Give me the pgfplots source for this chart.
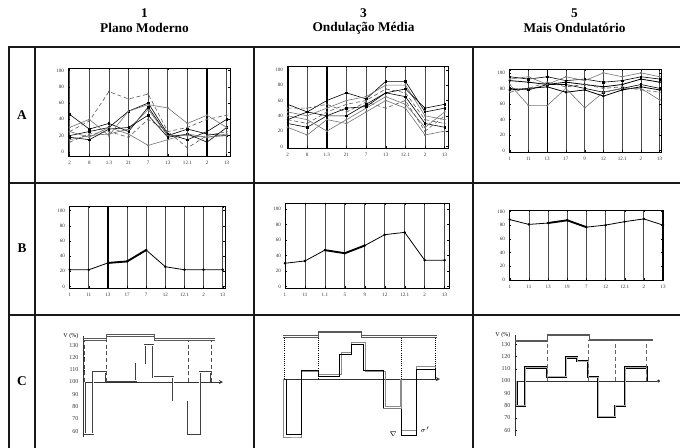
\documentclass[border=0pt]{standalone}
\usepackage{fontspec}
\setmainfont{Liberation Serif}
\usepackage{pgfplots}
\pgfplotsset{compat=1.18}
\usetikzlibrary{arrows.meta}
\begin{document}
\begin{tikzpicture}[x=0.75pt,y=0.75pt]
\useasboundingbox (0,0) rectangle (680,448);
\tikzset{small/.style={font=\fontsize{3.8}{4}\selectfont, text=black!80}}
\pgfplotsset{
  pplot/.style={scale only axis, anchor=south west,
    axis line style={black,line width=0.6pt},
    xmajorgrids, major grid style={black!70,line width=0.55pt},
    tick style={black,line width=0.3pt}, major tick length=1.2pt,
    tick label style={font=\fontsize{3.8}{4}\selectfont, text=black!80},
    /pgf/number format/assume math mode=true,
    xtick={1,...,9}, ytick={0,20,...,100},
    xticklabel style={yshift=-0.5pt}, yticklabel style={xshift=0.5pt}},
  la/.style={black, line width=0.45pt, mark=square*, mark size=0.55pt},
  lg/.style={black!55, line width=0.45pt, mark=*, mark size=0.5pt},
  ld/.style={black!65, line width=0.45pt, densely dashed, mark=*, mark size=0.45pt},
  lb/.style={black, line width=0.6pt, mark=*, mark size=0.6pt},
  topl/.style={const plot, black!65, line width=0.4pt},
}
% ---- header
\node[font=\bfseries\fontsize{10}{11}\selectfont] at (144.5,435) {1};
\node[font=\bfseries\fontsize{10}{11}\selectfont] at (144.5,420) {Plano Moderno};
\node[font=\bfseries\fontsize{10}{11}\selectfont] at (363.5,435) {3};
\node[font=\bfseries\fontsize{10}{11}\selectfont] at (363.5,420) {Ondulação Média};
\node[font=\bfseries\fontsize{10}{11}\selectfont] at (574.5,435) {5};
\node[font=\bfseries\fontsize{10}{11}\selectfont] at (574.5,420) {Mais Ondulatório};
% ---- table lines
\begin{scope}[line width=1.9pt, black!90]
\draw (8.05,401) -- (680,401);
\draw (8.05,265) -- (680,265);
\draw (8.05,133) -- (680,133);
\draw (9,401.95) -- (9,0);
\draw (35,401) -- (35,0);
\draw (254,401) -- (254,0);
\draw (473,401) -- (473,0);
\end{scope}
\node[font=\bfseries\fontsize{10}{11}\selectfont] at (22,333) {A};
\node[font=\bfseries\fontsize{10}{11}\selectfont] at (22,200) {B};
\node[font=\bfseries\fontsize{10}{11}\selectfont] at (22,67) {C};

% ================= A1
\begin{axis}[pplot, at={(68*0.75pt,292*0.75pt)}, width=121.5pt, height=66pt,
  xmin=0.915, xmax=9.17, ymin=-5, ymax=103,
  xticklabels={2,8,1.3,21,7,13,12.1,2,13}]
\addplot[la] coordinates {(1,46)(2,28)(3,35)(4,25)(5,55)(6,20)(7,28)(8,22)(9,20)};
\addplot[ld] coordinates {(1,25)(2,38)(3,74)(4,65)(5,71)(6,25)(7,30)(8,40)(9,45)};
\addplot[la] coordinates {(1,20)(2,25)(3,30)(4,50)(5,60)(6,22)(7,15)(8,25)(9,40)};
\addplot[lg] coordinates {(1,15)(2,20)(3,22)(4,28)(5,52)(6,20)(7,20)(8,18)(9,22)};
\addplot[la] coordinates {(1,18)(2,15)(3,28)(4,30)(5,45)(6,18)(7,22)(8,12)(9,30)};
\addplot[lg] coordinates {(1,25)(2,18)(3,30)(4,22)(5,8)(6,15)(7,22)(8,18)(9,20)};
\addplot[ld] coordinates {(1,12)(2,22)(3,25)(4,18)(5,40)(6,25)(7,5)(8,20)(9,25)};
\addplot[lg] coordinates {(1,30)(2,40)(3,20)(4,50)(5,58)(6,54)(7,35)(8,45)(9,30)};
\draw[line width=1.3pt] (rel axis cs:0,0) -- (rel axis cs:0,1);
\draw[line width=1.1pt] (axis cs:8,-5) -- (axis cs:8,103);
\node[small, anchor=south east] at (rel axis cs:0,1) {1};
\end{axis}

% ================= A2
\begin{axis}[pplot, at={(287*0.75pt,300*0.75pt)}, width=120.75pt, height=61.5pt,
  xmin=0.97, xmax=9.17, ymin=-2, ymax=105,
  xticklabels={2,8,1.3,21,7,13,12.1,2,13}]
\addplot[la] coordinates {(1,55)(2,45)(3,60)(4,70)(5,62)(6,85)(7,85)(8,45)(9,50)};
\addplot[lg] coordinates {(1,45)(2,40)(3,50)(4,60)(5,65)(6,80)(7,80)(8,40)(9,35)};
\addplot[ld] coordinates {(1,35)(2,30)(3,45)(4,55)(5,60)(6,75)(7,70)(8,35)(9,30)};
\addplot[la] coordinates {(1,30)(2,25)(3,40)(4,40)(5,55)(6,70)(7,65)(8,30)(9,25)};
\addplot[lg] coordinates {(1,40)(2,35)(3,20)(4,35)(5,50)(6,65)(7,55)(8,25)(9,45)};
\addplot[ld] coordinates {(1,50)(2,50)(3,55)(4,45)(5,58)(6,50)(7,60)(8,20)(9,40)};
\addplot[lg] coordinates {(1,25)(2,15)(3,35)(4,30)(5,45)(6,60)(7,50)(8,15)(9,20)};
\addplot[la] coordinates {(1,35)(2,45)(3,40)(4,50)(5,52)(6,70)(7,75)(8,50)(9,55)};
\draw[line width=1.3pt] (rel axis cs:0.01,0) -- (rel axis cs:0.01,1);
\draw[line width=1.1pt] (axis cs:3,-2) -- (axis cs:3,105);
\node[small, anchor=south east] at (rel axis cs:0,1) {1};
\end{axis}

% ================= A3
\begin{axis}[pplot, at={(509*0.75pt,296*0.75pt)}, width=114pt, height=62.25pt,
  xmin=0.96, xmax=9.07, ymin=-2, ymax=105,
  xticklabels={1,11,13,17,9,12,12.1,2,13}]
\addplot[la] coordinates {(1,95)(2,92)(3,95)(4,90)(5,92)(6,88)(7,90)(8,95)(9,92)};
\addplot[lb] coordinates {(1,90)(2,88)(3,85)(4,88)(5,85)(6,82)(7,85)(8,92)(9,88)};
\addplot[la] coordinates {(1,80)(2,78)(3,85)(4,85)(5,80)(6,75)(7,80)(8,85)(9,80)};
\addplot[lg] coordinates {(1,85)(2,58)(3,58)(4,80)(5,55)(6,75)(7,80)(8,80)(9,65)};
\addplot[lb] coordinates {(1,78)(2,80)(3,82)(4,75)(5,78)(6,70)(7,78)(8,82)(9,78)};
\addplot[lg] coordinates {(1,92)(2,95)(3,85)(4,95)(5,90)(6,100)(7,95)(8,100)(9,95)};
\addplot[ld] coordinates {(1,75)(2,80)(3,88)(4,82)(5,85)(6,80)(7,82)(8,78)(9,75)};
\draw[line width=1.3pt] (rel axis cs:0,0) -- (rel axis cs:0,1);
\draw[line width=1.0pt] (axis cs:3,-2) -- (axis cs:3,105);
\node[small, anchor=south east] at (rel axis cs:0,1) {C};
\end{axis}

% ================= B1
\begin{axis}[pplot, at={(69*0.75pt,160*0.75pt)}, width=117pt, height=61.5pt,
  xmin=0.965, xmax=9.12, ymin=-2, ymax=106,
  xticklabels={1,11,13,17,7,12,12.1,2,13}]
\addplot[lb] coordinates {(1,22)(2,22)(3,31)(4,33)(5,48)(6,26)(7,22)(8,22)(9,22)};
\addplot[black, line width=1.4pt] coordinates {(3,31)(4,33)(5,48)};
\draw[line width=1.3pt] (rel axis cs:0,0) -- (rel axis cs:0,1);
\draw[line width=1.0pt] (axis cs:3,-2) -- (axis cs:3,106);
\node[small, anchor=south east] at (rel axis cs:0,1) {1};
\end{axis}

% ================= B2
\begin{axis}[pplot, at={(285*0.75pt,160*0.75pt)}, width=123pt, height=63.75pt,
  xmin=1, xmax=9.22, ymin=-2, ymax=108,
  xticklabels={1,11,1.1,5,9,12,12.1,2,13}]
\addplot[lb] coordinates {(1,30)(2,33)(3,47)(4,43)(5,53)(6,67)(7,70)(8,34)(9,34)};
\addplot[black, line width=1.4pt] coordinates {(3,47)(4,43)(5,53)};
\draw[line width=1.3pt] (rel axis cs:0,0) -- (rel axis cs:0,1);
\node[small, anchor=south east] at (rel axis cs:0,1) {1};
\end{axis}

% ================= B3
\begin{axis}[pplot, at={(509*0.75pt,168*0.75pt)}, width=115.5pt, height=52.5pt,
  xmin=0.96, xmax=9.0, ymin=0, ymax=102,
  xticklabels={1,11,13,19,7,12,12.1,2,13}]
\addplot[lb] coordinates {(1,88)(2,81)(3,83)(4,87)(5,77)(6,80)(7,85)(8,89)(9,80)};
\addplot[black, line width=1.4pt] coordinates {(3,83)(4,87)(5,77)};
\draw[line width=1.3pt] (rel axis cs:0,0) -- (rel axis cs:0,1);
\draw[line width=1.3pt] (rel axis cs:1,0) -- (rel axis cs:1,1);
\node[small, anchor=south east] at (rel axis cs:0,1) {1};
\end{axis}

% ================= C1
\begin{axis}[scale only axis, anchor=south west, at={(83*0.75pt,10.5*0.75pt)},
  width=105pt, height=75.8pt, xmin=0, xmax=42, ymin=55, ymax=137,
  axis x line=none, axis y line*=left, clip=false,
  axis line style={black!80,line width=0.5pt},
  ytick={60,70,...,130}, major tick length=1.2pt,
  tick style={black,line width=0.3pt},
  tick label style={font=\fontsize{4.5}{5}\selectfont, text=black!80},
  /pgf/number format/assume math mode=true]
\addplot[black!80, line width=0.4pt, -stealth] coordinates {(0,100)(42,100)};
\addplot[const plot, black!75, line width=0.4pt, double=white, double distance=0.6pt]
  coordinates {(0.5,100)(0.5,58)(3,108)(7,101)(16,115)(18.5,130)(21,104)(27,85)(31.5,58)(35,108)(38.5,100)};
\addplot[topl] coordinates {(0,134.2)(7,137.5)(21.5,134.2)(39.5,134.2)};
\addplot[topl] coordinates {(0,135.2)(7,138.5)(21.5,135.2)(39.5,135.2)};
\addplot[black!70, densely dashed, line width=0.4pt] coordinates {(0.5,100)(0.5,134.2)};
\addplot[black!70, densely dashed, line width=0.4pt] coordinates {(7,100)(7,134.2)};
\addplot[black!70, densely dashed, line width=0.4pt] coordinates {(31.5,100)(31.5,134.2)};
\addplot[black!70, densely dashed, line width=0.4pt] coordinates {(38.5,100)(38.5,134.2)};
\node[font=\fontsize{4.5}{5}\selectfont, anchor=south east] at (axis cs:0,131) {V (\%)};
\end{axis}

% ================= C2
\begin{axis}[scale only axis, anchor=south west, at={(283*0.75pt,7.3*0.75pt)},
  width=117.75pt, height=83.25pt, xmin=0, xmax=47, ymin=50, ymax=140,
  axis lines=none, clip=false]
\addplot[black!80, line width=0.4pt, -stealth] coordinates {(0,100)(47,100)};
\addplot[const plot, black!45, line width=0.5pt]
  coordinates {(0,100)(0,53)(4.5,53)(5.5,106)(10.5,104)(17.5,122)(20.5,130)(24.5,106)(30.5,78)(35,100)(35.5,58)(40,110)(45.5,100)};
\addplot[const plot, black, line width=0.6pt]
  coordinates {(1,100)(1,55)(5.5,107)(10.5,102)(17,120)(20.5,128)(24,107)(30,76)(35.5,54)(40,108)(45.5,100)};
\addplot[black!50, line width=1.2pt] coordinates {(30,76)(35.5,76)};
\addplot[topl] coordinates {(0,134.2)(10.5,137.8)(23.5,134.2)(46,134.2)};
\addplot[topl] coordinates {(0,135.2)(10.5,138.8)(23.5,135.2)(46,135.2)};
\addplot[black, densely dotted, line width=0.6pt] coordinates {(0.5,100)(0.5,134.5)};
\addplot[black, densely dotted, line width=0.6pt] coordinates {(10.5,100)(10.5,134.5)};
\addplot[black, densely dotted, line width=0.6pt] coordinates {(35.5,100)(35.5,134.5)};
\addplot[black, densely dotted, line width=0.6pt] coordinates {(45.5,100)(45.5,134.5)};
\node[font=\fontsize{5}{5}\selectfont] at (axis cs:33,55) {$\nabla$};
\node[font=\fontsize{5}{5}\selectfont] at (axis cs:42.5,59) {$\sigma'$};
\end{axis}

% ================= C3
\begin{axis}[scale only axis, anchor=south west, at={(515*0.75pt,11.5*0.75pt)},
  width=108.75pt, height=75.8pt, xmin=0, xmax=43.5, ymin=55, ymax=137,
  axis x line=none, axis y line*=left, clip=false,
  axis line style={black!80,line width=0.5pt},
  ytick={60,70,...,130}, major tick length=1.2pt,
  tick style={black,line width=0.3pt},
  tick label style={font=\fontsize{4.5}{5}\selectfont, text=black!80},
  /pgf/number format/assume math mode=true]
\addplot[black!80, line width=0.4pt, -{Circle[length=2.2pt]}] coordinates {(0,100)(43.5,100)};
\addplot[const plot, black, line width=0.55pt, double=black!30, double distance=0.6pt]
  coordinates {(0.5,100)(0.5,80)(3,111)(9.7,103.5)(15.3,119)(18.7,116)(22,103)(25,71)(30,80)(33,111)(39.5,100)};
\addplot[topl] coordinates {(0,132.3)(9.7,136.8)(22.3,132.8)(41.5,132.8)};
\addplot[topl] coordinates {(0,133.3)(9.7,137.8)(22.3,133.8)(41.5,133.8)};
\addplot[black!60, densely dashed, line width=0.35pt] coordinates {(9.7,100)(9.7,132.5)};
\addplot[black!60, densely dashed, line width=0.35pt] coordinates {(22,100)(22,133)};
\addplot[black!60, densely dashed, line width=0.35pt] coordinates {(30,100)(30,133)};
\addplot[black!60, densely dashed, line width=0.35pt] coordinates {(39.5,100)(39.5,133)};
\node[font=\fontsize{4.5}{5}\selectfont, anchor=south east] at (axis cs:0,131) {V (\%)};
\end{axis}
\end{tikzpicture}
\end{document}
